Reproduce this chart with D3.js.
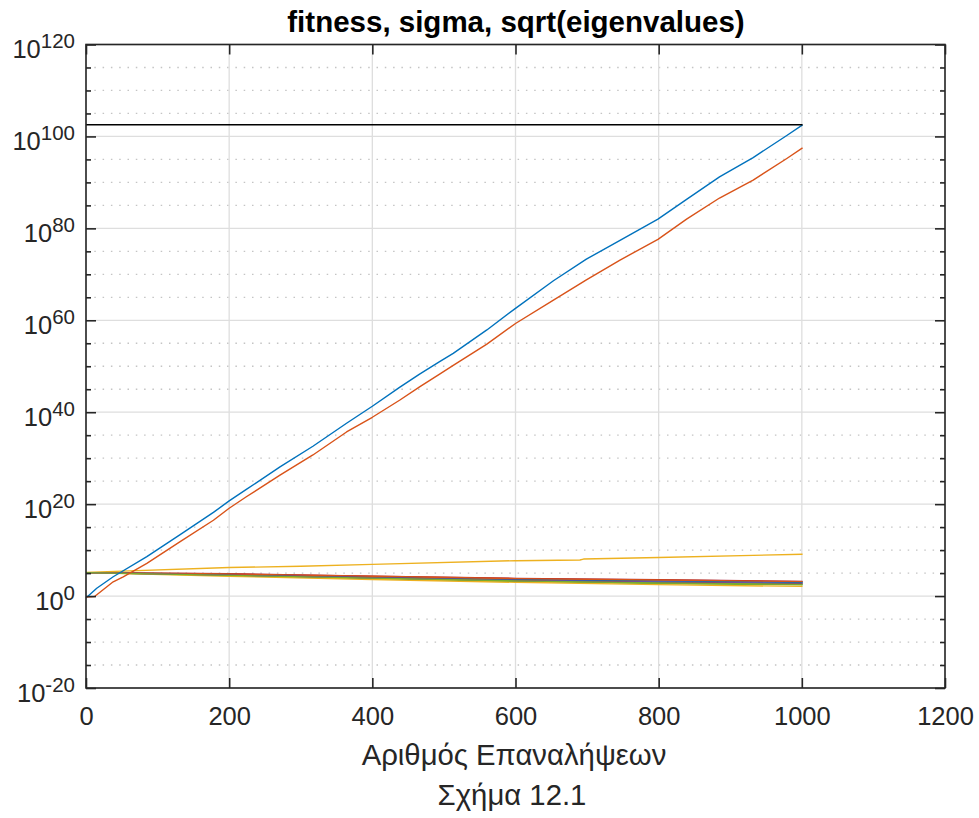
<!DOCTYPE html>
<html>
<head>
<meta charset="utf-8">
<script src="https://cdn.jsdelivr.net/npm/d3@7"></script>
<style>
body { margin: 0; background: #fff; }
</style>
</head>
<body>
<div id="chart-area"></div>
<script>
/* fitness, sigma, sqrt(eigenvalues) - log plot */

// tick values
var xTicks = [0, 200, 400, 600, 800, 1000, 1200];
var yTickExp = [-20, 0, 20, 40, 60, 80, 100, 120];

// fitness (blue), values given as log10
var fitIter = [0, 15, 38, 85, 131, 178, 200, 224, 271, 317, 364, 400, 438, 466, 494, 513, 560, 600, 653, 699, 746, 799, 839, 885, 932, 979, 1001];
var fitExp = [-0.4, 1.7, 4.2, 8.6, 13.3, 18.2, 20.7, 23.2, 28.1, 32.6, 37.6, 41.3, 45.4, 48.3, 51.0, 52.8, 57.9, 62.6, 68.6, 73.3, 77.4, 82.0, 86.3, 91.2, 95.4, 100.2, 102.5];

// sigma (orange)
var sigIter = [0, 12, 38, 52, 85, 131, 178, 200, 224, 271, 317, 364, 400, 438, 466, 494, 513, 560, 600, 653, 699, 746, 799, 839, 885, 932, 979, 1001];
var sigExp = [-0.2, -0.1, 3.1, 4.2, 7.1, 11.8, 16.5, 19.1, 21.6, 26.3, 30.7, 35.7, 38.9, 42.6, 45.5, 48.3, 50.2, 54.8, 59.3, 64.4, 68.8, 73.1, 77.6, 82.0, 86.6, 90.5, 95.2, 97.5];

// stop level (black)
var stopIter = [0, 1001];
var stopExp = [102.55, 102.55];

// largest sqrt(eigenvalue), rising (yellow)
var eigMaxIter = [0, 200, 300, 400, 600, 690, 695, 800, 1001];
var eigMaxExp = [5.15, 6.2, 6.5, 6.9, 7.7, 7.85, 8.05, 8.4, 9.1];

// the other sqrt(eigenvalues), bundle
var eigIter = [0, 200, 400, 600, 800, 1001];
var eig2 = [5.1, 4.65, 4.1, 3.5, 3.2, 2.9];
var eig3 = [5.1, 4.45, 3.8, 3.2, 2.75, 2.45];
var eig4 = [5.1, 4.6, 4.05, 3.45, 3.1, 2.8];
var eig5 = [5.1, 4.85, 4.35, 3.85, 3.55, 3.2];
var eig6 = [5.1, 4.7, 4.15, 3.6, 3.3, 3.0];
var eig7 = [5.1, 4.8, 4.3, 3.8, 3.5, 3.15];
var eig8 = [5.1, 4.3, 3.6, 3.0, 2.5, 2.1];
var eig9 = [5.1, 4.55, 4.0, 3.4, 3.0, 2.7];
var eig10 = [5.1, 4.5, 3.9, 3.3, 2.85, 2.55];

var colors = ["#0072BD", "#D95319", "#EDB120", "#7E2F8E", "#77AC30", "#4DBEEE", "#A2142F"];

var margin = { left: 86, right: 34, top: 44.5, bottom: 130 };
var width = 979 - margin.left - margin.right;
var height = 818 - margin.top - margin.bottom;
var axisColor = "#262626";
var font = "'Liberation Sans', Arial, Helvetica, sans-serif";

var svg = d3.select("#chart-area")
    .append("svg")
    .attr("width", 979)
    .attr("height", 818)
    .style("font-family", font);

var g = svg.append("g")
    .attr("transform", "translate(" + margin.left + "," + margin.top + ")");

var x = d3.scaleLinear().domain([0, 1200]).range([0, width]);
var y = d3.scaleLog().domain([1e-20, 1e120]).range([height, 0]);

function yE(e) { return y(Math.pow(10, e)); }

// minor grid, every 5 decades
var minorExp = d3.range(-20, 121, 5).filter(function(e) { return e % 20 !== 0; });
g.selectAll(".minor-grid")
    .data(minorExp)
    .enter()
    .append("line")
    .attr("x1", 0).attr("x2", width)
    .attr("y1", function(e) { return yE(e); })
    .attr("y2", function(e) { return yE(e); })
    .attr("stroke", "#c4c4c4")
    .attr("stroke-width", 1.3)
    .attr("stroke-dasharray", "1.5,6.8");

// major grid
g.selectAll(".ygrid")
    .data(yTickExp)
    .enter()
    .append("line")
    .attr("x1", 0).attr("x2", width)
    .attr("y1", function(e) { return yE(e); })
    .attr("y2", function(e) { return yE(e); })
    .attr("stroke", "#dedede")
    .attr("stroke-width", 1.3);

g.selectAll(".xgrid")
    .data(xTicks)
    .enter()
    .append("line")
    .attr("x1", function(d) { return x(d); })
    .attr("x2", function(d) { return x(d); })
    .attr("y1", 0).attr("y2", height)
    .attr("stroke", "#dedede")
    .attr("stroke-width", 1.3);

// lines
var line = d3.line()
    .x(function(d) { return x(d[0]); })
    .y(function(d) { return yE(d[1]); });

function addLine(iters, vals, color, w) {
    g.append("path")
        .datum(d3.zip(iters, vals))
        .attr("d", line)
        .attr("fill", "none")
        .attr("stroke", color)
        .attr("stroke-width", w || 1.4)
        .attr("stroke-linejoin", "round");
}

var bundle = [eig2, eig3, eig4, eig5, eig6, eig7, eig8, eig9, eig10];
var bundleColors = [colors[3], colors[4], colors[5], colors[6], colors[0], colors[1], colors[2], colors[3], colors[4]];

addLine(eigMaxIter, eigMaxExp, colors[2], 1.4);
bundle.forEach(function(vals, i) {
    addLine(eigIter, vals, bundleColors[i], 1.4);
});
addLine(fitIter, fitExp, colors[0], 1.4);
addLine(sigIter, sigExp, colors[1], 1.4);
addLine(stopIter, stopExp, "#000000", 1.4);

// axes (ticks point inward)
var xBottom = d3.axisBottom(x).tickValues(xTicks).tickSizeInner(-10).tickSizeOuter(0)
    .tickPadding(19).tickFormat(d3.format("d"));
var xTop = d3.axisTop(x).tickValues(xTicks).tickSizeInner(-10).tickSizeOuter(0).tickFormat("");

var gx = g.append("g").attr("transform", "translate(0," + height + ")").call(xBottom);
g.append("g").call(xTop);

gx.selectAll("text")
    .attr("fill", axisColor)
    .style("font-size", "25.5px")
    .style("font-family", font);

var yMajor = yTickExp.map(function(e) { return Math.pow(10, e); });
var yMinor = minorExp.map(function(e) { return Math.pow(10, e); });

g.append("g").call(d3.axisLeft(y).tickValues(yMajor).tickSizeInner(-10).tickSizeOuter(0).tickFormat(""));
g.append("g").call(d3.axisLeft(y).tickValues(yMinor).tickSizeInner(-5).tickSizeOuter(0).tickFormat(""));
g.append("g").attr("transform", "translate(" + width + ",0)")
    .call(d3.axisRight(y).tickValues(yMajor).tickSizeInner(-10).tickSizeOuter(0).tickFormat(""));
g.append("g").attr("transform", "translate(" + width + ",0)")
    .call(d3.axisRight(y).tickValues(yMinor).tickSizeInner(-5).tickSizeOuter(0).tickFormat(""));

g.selectAll(".domain").attr("stroke", "none");
g.selectAll(".tick line").attr("stroke", axisColor).attr("stroke-width", 1.6);

// box
g.append("rect")
    .attr("x", 0).attr("y", 0)
    .attr("width", width).attr("height", height)
    .attr("fill", "none")
    .attr("stroke", axisColor)
    .attr("stroke-width", 1.6);

// y labels 10^n
var ylab = g.selectAll(".ylab")
    .data(yTickExp)
    .enter()
    .append("text")
    .attr("x", -11)
    .attr("y", function(e) { return yE(e) + 13.5; })
    .attr("text-anchor", "end")
    .attr("fill", axisColor);

ylab.append("tspan")
    .style("font-size", "25.5px")
    .text("10");
ylab.append("tspan")
    .attr("dx", 0)
    .attr("dy", -10)
    .style("font-size", "20.5px")
    .text(function(e) { return e; });

// title and labels
svg.append("text")
    .attr("x", 516)
    .attr("y", 32)
    .attr("text-anchor", "middle")
    .attr("fill", "#000")
    .style("font-size", "29.5px")
    .style("font-weight", "bold")
    .text("fitness, sigma, sqrt(eigenvalues)");

svg.append("text")
    .attr("x", 514)
    .attr("y", 765)
    .attr("text-anchor", "middle")
    .attr("fill", axisColor)
    .style("font-size", "29.3px")
    .text("Αριθμός Επαναλήψεων");

svg.append("text")
    .attr("x", 512)
    .attr("y", 805)
    .attr("text-anchor", "middle")
    .attr("fill", axisColor)
    .style("font-size", "29.3px")
    .text("Σχήμα 12.1");
</script>
</body>
</html>
